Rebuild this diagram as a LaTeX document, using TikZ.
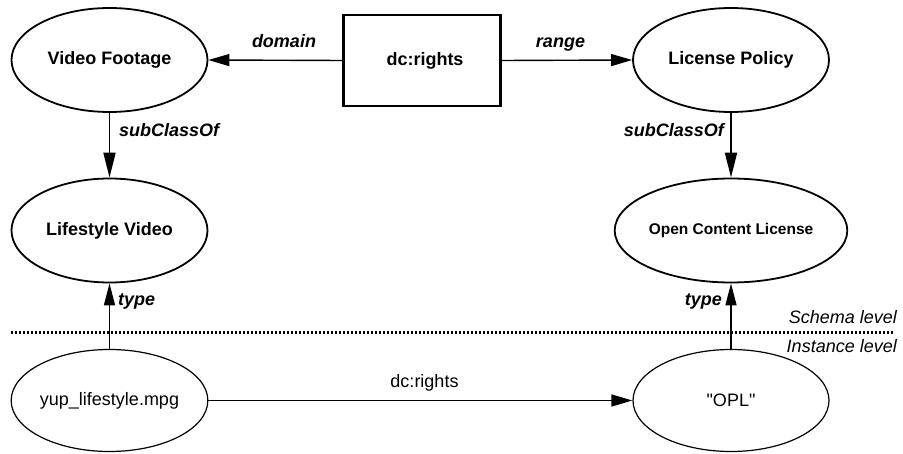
\documentclass[tikz,border=0pt]{standalone}
\usepackage{fontspec}
\setmainfont{Liberation Sans}[Ligatures=TeXOff]
\usetikzlibrary{shapes.geometric,arrows.meta}
\begin{document}
\begin{tikzpicture}[x=1pt,y=-1pt,
 cls/.style={ellipse,draw,line width=1.8pt,minimum width=196pt,minimum height=104pt,inner sep=0pt,font=\fontsize{18}{21}\selectfont\bfseries},
 inst/.style={ellipse,draw,line width=1.2pt,minimum width=196pt,minimum height=102pt,inner sep=0pt,font=\fontsize{18}{21}\selectfont},
 prop/.style={rectangle,draw,line width=2.5pt,minimum width=157pt,minimum height=91pt,inner sep=0pt,font=\fontsize{18}{21}\selectfont\bfseries},
 harr/.style={-{Triangle[length=21pt,width=12pt]},line width=1.4pt},
 varr/.style={-{Triangle[length=25pt,width=12pt]},line width=1.8pt},
 tarr/.style={-{Triangle[length=22pt,width=11pt]},line width=1.5pt},
 lbl/.style={font=\fontsize{18}{21}\selectfont\bfseries\itshape,inner sep=0pt},
 ilbl/.style={font=\fontsize{18}{21}\selectfont\itshape,inner sep=0pt},
 plbl/.style={font=\fontsize{18}{21}\selectfont,inner sep=0pt},
]
\useasboundingbox (0,0) rectangle (903,454);
\node[cls] (vf) at (109.5,60) {Video Footage};
\node[cls] (lv) at (109.5,230.5) {Lifestyle Video};
\node[cls] (lp) at (731,60) {License Policy};
\node[cls,font=\fontsize{15.5}{18}\selectfont\bfseries] (ocl) at (731,230.5) {Open Content License};
\node[inst] (yup) at (109.5,400.5) {yup\_lifestyle.mpg};
\node[inst] (opl) at (731,400.5) {"OPL"};
\node[prop] (dc) at (422,60.5) {\hspace{6pt}dc:rights};

\draw[harr] (dc.west) -- (vf.east);
\draw[harr] (dc.east) -- (lp.west);
\draw[varr] (vf.south) -- (lv.north);
\draw[varr] (lp.south) -- (ocl.north);
\draw[tarr] (yup.north) -- (lv.south);
\draw[tarr] (opl.north) -- (ocl.south);
\draw[harr,line width=1.4pt] (yup.east) -- (opl.west);

\coordinate (dl) at (11,332.5);
\coordinate (dr) at (894,332.5);
\draw[line width=3.5pt,dash pattern=on 2.2pt off 1.8pt] (dl) -- (dr);

\node[lbl,anchor=base] (ldom) at (284,48) {domain};
\node[lbl,anchor=base] (lran) at (560.5,48) {range};
\node[lbl,anchor=base west] (lsc1) at (119,137) {subClassOf};
\node[lbl,anchor=base east] (lsc2) at (724,137) {subClassOf};
\node[lbl,anchor=base west] (lt1) at (118,306) {type};
\node[lbl,anchor=base east] (lt2) at (722,306) {type};
\node[plbl,anchor=base] (ldc) at (424.5,388) {dc:rights};
\node[ilbl,anchor=base east] (lsch) at (897,324) {Schema level};
\node[ilbl,anchor=base east] (lins) at (897,353) {Instance level};
\end{tikzpicture}
\end{document}
